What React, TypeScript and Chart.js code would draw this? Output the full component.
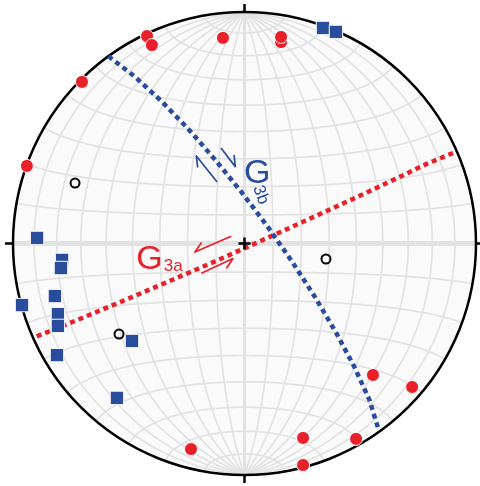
import React, { useEffect, useRef } from "react";
import { Chart, registerables } from "chart.js";
Chart.register(...registerables);

// All positions are in net coordinates: x = east, y = north, primitive circle radius = 1

// Red filled circles
const redX = [-0.421, -0.400, -0.093, -0.702, -0.940, 0.158, 0.158, 0.555, 0.724, 0.253, 0.482, 0.253, -0.231];
const redY = [0.896, 0.857, 0.888, 0.698, 0.335, 0.870, 0.892, -0.568, -0.620, -0.840, -0.844, -0.957, -0.888];

// Blue squares
const blueX = [0.339, 0.395, -0.896, -0.788, -0.793, -0.819, -0.961, -0.806, -0.806, -0.486, -0.810, -0.551];
const blueY = [0.931, 0.914, 0.024, -0.071, -0.106, -0.227, -0.266, -0.305, -0.356, -0.421, -0.482, -0.667];

// Open black circles
const openX = [-0.732, -0.542, 0.352];
const openY = [0.261, -0.391, -0.067];

// Trace of plane G3a (red dotted great circle)
const g3aX = [0.901, 0.789, 0.650, 0.500, 0.341, 0.176, 0.008, -0.161, -0.328, -0.489, -0.642, -0.784, -0.913];
const g3aY = [0.391, 0.345, 0.278, 0.207, 0.134, 0.059, -0.017, -0.092, -0.164, -0.233, -0.297, -0.356, -0.407];

// Trace of plane G3b (blue dotted great circle)
const g3bX = [-0.588, -0.474, -0.359, -0.243, -0.127, -0.012, 0.100, 0.206, 0.305, 0.395, 0.474, 0.539, 0.577];
const g3bY = [0.809, 0.721, 0.615, 0.495, 0.362, 0.221, 0.073, -0.079, -0.232, -0.384, -0.532, -0.674, -0.797];

// Labels: text, subscript, positions
const labelMain = ["G", "G"];
const labelSub = ["3a", "3b"];
const labelColor = ["#e8202a", "#2a4c9c"];
const labelX = [-0.410, 0.055];
const labelY = [-0.070, 0.303];
const subX = [-0.308, 0.070];
const subY = [-0.098, 0.210];
const subRot = [0, 70];

// Shear-sense half arrows: tail -> tip, barb side (+1 / -1)
const arrowTailX = [-0.060, -0.184, -0.120, -0.100];
const arrowTailY = [0.030, -0.127, 0.268, 0.410];
const arrowTipX = [-0.214, -0.050, -0.208, -0.040];
const arrowTipY = [-0.037, -0.065, 0.378, 0.332];
const arrowSide = [-1, -1, 1, 1];
const arrowColor = ["#e8202a", "#e8202a", "#2a4c9c", "#2a4c9c"];

const RED = "#e8202a";
const BLUE = "#2a4c9c";

const toPts = (xs: number[], ys: number[]) => xs.map((x, i) => ({ x, y: ys[i] }));

const netPlugin = {
  id: "schmidtNet",
  beforeDatasetsDraw(chart: any) {
    const { ctx, scales } = chart;
    const sx = scales.x, sy = scales.y;
    const cx = sx.getPixelForValue(0), cy = sy.getPixelForValue(0);
    const R = sx.getPixelForValue(1) - cx;
    const proj = (e: number, n: number, z: number) => {
      const f = 1 / Math.sqrt(1 + z);
      return [sx.getPixelForValue(e * f), sy.getPixelForValue(n * f)];
    };
    const d2r = Math.PI / 180;
    ctx.save();
    ctx.beginPath();
    ctx.arc(cx, cy, R, 0, Math.PI * 2);
    ctx.fillStyle = "#fafafa";
    ctx.fill();
    ctx.clip();
    ctx.strokeStyle = "#e2e2e2";
    // meridians (great circles through N and S)
    for (let a = -80; a <= 80; a += 10) {
      const al = a * d2r;
      ctx.beginPath();
      ctx.lineWidth = a === 0 ? 3 : 1.7;
      for (let t = 0; t <= 180; t += 1) {
        const tt = t * d2r;
        const [px, py] = proj(Math.sin(tt) * Math.sin(al), Math.cos(tt), Math.sin(tt) * Math.cos(al));
        if (t === 0) ctx.moveTo(px, py); else ctx.lineTo(px, py);
      }
      ctx.stroke();
    }
    // parallels (small circles about N-S axis)
    for (let b = 10; b <= 170; b += 10) {
      const bb = b * d2r;
      ctx.beginPath();
      ctx.lineWidth = b === 90 ? 5 : 1.7;
      for (let s = 0; s <= 180; s += 1) {
        const ss = s * d2r;
        const [px, py] = proj(Math.sin(bb) * Math.cos(ss), Math.cos(bb), Math.sin(bb) * Math.sin(ss));
        if (s === 0) ctx.moveTo(px, py); else ctx.lineTo(px, py);
      }
      ctx.stroke();
    }
    ctx.restore();
    // primitive circle
    ctx.save();
    ctx.beginPath();
    ctx.arc(cx, cy, R, 0, Math.PI * 2);
    ctx.strokeStyle = "#000";
    ctx.lineWidth = 2.5;
    ctx.stroke();
    // ticks at N, S, E, W
    ctx.beginPath();
    ctx.moveTo(cx, cy - R); ctx.lineTo(cx, cy - R - 8);
    ctx.moveTo(cx, cy + R); ctx.lineTo(cx, cy + R + 8);
    ctx.moveTo(cx - R, cy); ctx.lineTo(cx - R - 8, cy);
    ctx.moveTo(cx + R, cy); ctx.lineTo(cx + R + 8, cy);
    ctx.stroke();
    ctx.restore();
  },
  afterDatasetsDraw(chart: any) {
    const { ctx, scales } = chart;
    const sx = scales.x, sy = scales.y;
    const X = (v: number) => sx.getPixelForValue(v);
    const Y = (v: number) => sy.getPixelForValue(v);
    const cx = X(0), cy = Y(0);
    ctx.save();
    // centre cross
    ctx.strokeStyle = "#000";
    ctx.lineWidth = 2.5;
    ctx.beginPath();
    ctx.moveTo(cx - 6, cy); ctx.lineTo(cx + 6, cy);
    ctx.moveTo(cx, cy - 6); ctx.lineTo(cx, cy + 6);
    ctx.stroke();
    // half arrows
    ctx.lineWidth = 1.7;
    ctx.lineCap = "round";
    ctx.lineJoin = "round";
    for (let i = 0; i < arrowTailX.length; i++) {
      const x0 = X(arrowTailX[i]), y0 = Y(arrowTailY[i]);
      const x1 = X(arrowTipX[i]), y1 = Y(arrowTipY[i]);
      const dx = x0 - x1, dy = y0 - y1;
      const L = Math.hypot(dx, dy);
      const ux = dx / L, uy = dy / L;
      const a = (32 * Math.PI / 180) * arrowSide[i];
      const bx = ux * Math.cos(a) - uy * Math.sin(a);
      const by = ux * Math.sin(a) + uy * Math.cos(a);
      ctx.strokeStyle = arrowColor[i];
      ctx.beginPath();
      ctx.moveTo(x0, y0);
      ctx.lineTo(x1, y1);
      ctx.lineTo(x1 + bx * 11, y1 + by * 11);
      ctx.stroke();
    }
    // labels
    for (let i = 0; i < labelMain.length; i++) {
      ctx.fillStyle = labelColor[i];
      ctx.textAlign = "center";
      ctx.textBaseline = "middle";
      ctx.font = "34px 'Liberation Sans', Arial, sans-serif";
      ctx.fillText(labelMain[i], X(labelX[i]), Y(labelY[i]));
      ctx.save();
      ctx.translate(X(subX[i]), Y(subY[i]));
      ctx.rotate(subRot[i] * Math.PI / 180);
      ctx.font = "17px 'Liberation Sans', Arial, sans-serif";
      ctx.fillText(labelSub[i], 0, 0);
      ctx.restore();
    }
    ctx.restore();
  },
};

export default function App() {
  const ref = useRef<HTMLCanvasElement | null>(null);
  useEffect(() => {
    if (!ref.current) return;
    const chart = new Chart(ref.current, {
      type: "scatter",
      data: {
        datasets: [
          {
            label: "red",
            data: toPts(redX, redY),
            backgroundColor: RED,
            borderColor: "#ffffff",
            borderWidth: 1,
            pointRadius: 6.5,
            pointStyle: "circle",
            order: 1,
            clip: false,
          } as any,
          {
            label: "blue",
            data: toPts(blueX, blueY),
            backgroundColor: BLUE,
            borderColor: "#ffffff",
            borderWidth: 1,
            pointRadius: 9.5,
            pointStyle: "rect",
            order: 2,
            clip: false,
          } as any,
          {
            label: "open",
            data: toPts(openX, openY),
            backgroundColor: "rgba(255,255,255,0)",
            borderColor: "#000000",
            borderWidth: 2,
            pointRadius: 4.5,
            pointStyle: "circle",
            order: 3,
            clip: false,
          } as any,
          {
            label: "G3b",
            data: toPts(g3bX, g3bY),
            showLine: true,
            borderColor: BLUE,
            borderWidth: 4.5,
            borderDash: [5, 4],
            borderCapStyle: "butt",
            pointRadius: 0,
            tension: 0,
            order: 4,
            clip: false,
          } as any,
          {
            label: "G3a",
            data: toPts(g3aX, g3aY),
            showLine: true,
            borderColor: RED,
            borderWidth: 4.5,
            borderDash: [5, 4],
            borderCapStyle: "butt",
            pointRadius: 0,
            tension: 0,
            order: 5,
            clip: false,
          } as any,
        ],
      },
      options: {
        animation: false,
        responsive: false,
        maintainAspectRatio: false,
        layout: { autoPadding: false, padding: { left: 13, right: 4, top: 12, bottom: 11 } },
        plugins: { legend: { display: false }, tooltip: { enabled: false } },
        scales: {
          x: { type: "linear", min: -1, max: 1, display: false },
          y: { type: "linear", min: -1, max: 1, display: false },
        },
      },
      plugins: [netPlugin],
    });
    return () => chart.destroy();
  }, []);
  return (
    <div style={{ position: "fixed", left: 0, top: 0, width: 480, height: 486, background: "#fff" }}>
      <canvas ref={ref} width={480} height={486} style={{ width: 480, height: 486, display: "block" }} />
    </div>
  );
}
